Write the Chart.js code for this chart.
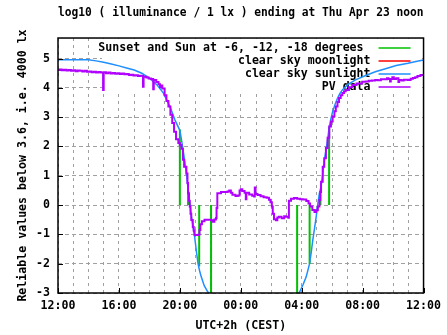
<!DOCTYPE html>
<html><head><meta charset="utf-8">
<script src="https://cdn.jsdelivr.net/npm/chart.js@4/dist/chart.umd.min.js"></script>
<style>html,body{margin:0;padding:0;background:#fff;overflow:hidden}</style>
</head><body>
<canvas id="c" width="447" height="335" style="width:447px;height:335px;display:block"></canvas>
<script>
const FONT = "'DejaVu Sans Mono', 'Liberation Mono', monospace";
const chartTitle = 'log10 ( illuminance / 1 lx ) ending at Thu Apr 23 noon';
const xAxisTitle = 'UTC+2h (CEST)';
const yAxisTitle = 'Reliable values below 3.6, i.e. 4000 lx';
// x is hours since Wed Apr 22 12:00 (UTC+2)
const xTickLabels = ['12:00', '16:00', '20:00', '00:00', '04:00', '08:00', '12:00'];

const legendLabels = ['Sunset and Sun at -6, -12, -18 degrees ', 'clear sky moonlight', 'clear sky sunlight', 'PV data'];
const legendColors = ['#00c000', '#ff0000', '#1e8fff', '#b000ff'];

// sunset, -6, -12, -18 (evening) and -18, -12, -6, sunrise (morning)
const twilightHours  = [8.0, 8.54, 9.27, 10.05, 15.7, 16.52, 17.23, 17.8];
const twilightValues = [2.58, 0.52, -2.1, -3.2, -3.2, -2.0, 0.45, 2.65];

const moonlightHours = [];
const moonlightValues = [];

const sunlightHours = [0, 1, 2, 2.5, 3, 3.5, 4, 4.5, 5, 5.5, 6, 6.5, 6.92, 7.35, 7.68, 8.0, 8.1, 8.2, 8.32, 8.43, 8.54, 8.65, 8.76, 8.87, 8.97, 9.08, 9.19, 9.3, 9.4, 9.6, 9.83, 10.05,
  12.85,
  15.65, 15.87, 16.1, 16.3, 16.52, 16.63, 16.73, 16.84, 16.95, 17.06, 17.16, 17.27, 17.38, 17.49, 17.6, 17.7, 17.8, 17.92, 18.03, 18.2, 18.35, 18.5, 18.67, 19.0, 19.53, 20.2, 20.83, 21.5, 22.2, 22.98, 23.5, 24];
const sunlightValues = [4.96, 4.96, 4.96, 4.92, 4.87, 4.81, 4.75, 4.68, 4.61, 4.50, 4.33, 4.10, 3.82, 3.36, 2.90, 2.55, 2.25, 1.92, 1.50, 1.08, 0.55, 0.06, -0.40, -0.75, -1.08, -1.55, -1.99, -2.25, -2.44, -2.75, -2.96, -3.1,
  null,
  -3.1, -2.96, -2.7, -2.44, -1.99, -1.6, -1.19, -0.8, -0.40, 0.05, 0.40, 0.63, 1.05, 1.54, 1.9, 2.22, 2.65, 2.95, 3.19, 3.45, 3.64, 3.8, 3.93, 4.1, 4.27, 4.42, 4.55, 4.65, 4.76, 4.84, 4.9, 4.95];

const pvHours = [0.00, 0.12, 0.25, 0.40, 0.55, 0.70, 0.85, 1.00, 1.15, 1.30, 1.45, 1.60, 1.75, 1.90, 2.05, 2.20, 2.35, 2.50, 2.65, 2.80, 2.96, 3.00,
  3.15, 3.30, 3.45, 3.60, 3.75, 3.90, 4.05, 4.20, 4.35, 4.50, 4.65, 4.80, 4.95, 5.10, 5.25, 5.40, 5.58, 5.62, 5.80, 5.95, 6.10, 6.25, 6.29,
  6.45, 6.60, 6.70, 6.78, 6.85, 7.00, 7.12, 7.25, 7.38, 7.50, 7.62, 7.75, 7.90, 8.00, 8.10, 8.20, 8.28, 8.43, 8.50, 8.54, 8.60, 8.65, 8.70,
  8.75, 8.85, 8.91, 8.97, 9.10, 9.23, 9.29, 9.35, 9.45, 9.62, 9.80, 10.05, 10.16, 10.27, 10.37, 10.41, 10.46, 10.70, 10.90, 11.13, 11.24,
  11.35, 11.45, 11.65, 11.80, 11.92, 12.00, 12.10, 12.25, 12.33, 12.37, 12.55, 12.75, 12.88, 12.92, 12.97, 13.10, 13.30, 13.50, 13.70,
  13.85, 13.95, 14.04, 14.10, 14.18, 14.31, 14.40, 14.50, 14.68, 14.85, 14.95, 15.12, 15.16, 15.30, 15.50, 15.70, 15.90, 16.10, 16.30,
  16.45, 16.55, 16.70, 16.84, 16.95, 17.06, 17.16, 17.22, 17.27, 17.38, 17.48, 17.59, 17.70, 17.81, 17.92, 18.03, 18.15, 18.24, 18.35,
  18.45, 18.56, 18.67, 18.78, 18.89, 19.10, 19.32, 19.60, 19.97, 20.20, 20.40, 20.62, 20.83, 21.00, 21.20, 21.47, 21.60, 21.70, 21.80,
  21.85, 21.95, 22.05, 22.20, 22.35, 22.40, 22.55, 22.70, 22.98, 23.15, 23.30, 23.45, 23.60, 23.80, 24.00];
const pvValues = [4.61, 4.63, 4.60, 4.62, 4.59, 4.61, 4.58, 4.60, 4.57, 4.59, 4.58, 4.56, 4.58, 4.55, 4.56, 4.53, 4.55, 4.52, 4.54, 4.52, 3.93, 4.53,
  4.50, 4.52, 4.49, 4.51, 4.48, 4.50, 4.47, 4.49, 4.46, 4.47, 4.44, 4.45, 4.42, 4.43, 4.40, 4.41, 4.04, 4.38, 4.35, 4.32, 4.30, 3.95, 4.27,
  4.20, 4.12, 4.02, 4.08, 3.98, 3.75, 3.55, 3.36, 3.08, 2.80, 2.50, 2.25, 2.12, 2.05, 1.92, 1.55, 1.31, 1.08, 0.75, 0.40, 0.15, -0.05, -0.30,
  -0.51, -0.75, -0.88, -1.02, -1.02, -1.00, -0.85, -0.65, -0.55, -0.50, -0.50, -0.52, -0.57, -0.49, -0.44, -0.10, 0.40, 0.45, 0.45, 0.46, 0.50,
  0.42, 0.35, 0.31, 0.33, 0.50, 0.54, 0.48, 0.42, 0.20, 0.42, 0.36, 0.32, 0.29, 0.60, 0.38, 0.34, 0.30, 0.27, 0.25,
  0.18, 0.10, -0.05, -0.30, -0.48, -0.52, -0.42, -0.40, -0.45, -0.38, -0.40, -0.43, 0.15, 0.22, 0.24, 0.22, 0.20, 0.19, 0.14,
  0.05, -0.05, -0.17, -0.24, -0.18, -0.05, 0.17, 0.45, 0.80, 1.31, 1.60, 1.95, 2.30, 2.68, 2.85, 3.02, 3.20, 3.36, 3.52,
  3.65, 3.75, 3.82, 3.88, 3.93, 4.02, 4.10, 4.15, 4.21, 4.22, 4.24, 4.25, 4.27, 4.26, 4.29, 4.29, 4.33, 4.30, 4.22,
  4.30, 4.36, 4.30, 4.33, 4.20, 4.27, 4.25, 4.28, 4.27, 4.31, 4.34, 4.36, 4.40, 4.44, 4.47];

const pairs = (xs, ys) => xs.map((x, i) => ({x: x, y: ys[i]}));
const twilightData = [];
twilightHours.forEach((t, i) => {
  twilightData.push({x: t, y: 0}, {x: t, y: twilightValues[i]}, {x: t, y: null});
});

const txtFont = {family: FONT, size: 11.6, weight: 'bold'};
const titleFont = {family: FONT, size: 12.1, weight: 'bold'};

const decor = {
  id: 'decor',
  beforeDatasetsDraw(chart) {
    const {ctx, chartArea: a} = chart;
    ctx.save();
    ctx.fillStyle = '#ffffff';
    ctx.fillRect(a.left + 44, a.top + 1, 320, 54);
    ctx.font = 'bold 11.6px ' + FONT;
    ctx.textAlign = 'right';
    ctx.textBaseline = 'middle';
    legendLabels.forEach((lab, i) => {
      const y = a.top + 10 + i * 13;
      ctx.fillStyle = '#000';
      ctx.fillText(lab, a.right - 53, y);
      ctx.strokeStyle = legendColors[i];
      ctx.lineWidth = 1.5;
      ctx.beginPath();
      ctx.moveTo(a.right - 45, y);
      ctx.lineTo(a.right - 13, y);
      ctx.stroke();
    });
    ctx.restore();
  },
  afterDraw(chart) {
    const {ctx, chartArea: a, scales} = chart;
    ctx.save();
    ctx.strokeStyle = '#000';
    ctx.lineWidth = 1.5;
    ctx.strokeRect(a.left, a.top, a.right - a.left, a.bottom - a.top);
    ctx.lineWidth = 1;
    ctx.beginPath();
    for (let h = 0; h <= 24; h += 4) {
      const x = Math.round(scales.x.getPixelForValue(h)) + 0.5;
      ctx.moveTo(x, a.bottom); ctx.lineTo(x, a.bottom - 5);
    }
    for (let v = -3; v <= 5; v++) {
      const y = Math.round(scales.y.getPixelForValue(v)) + 0.5;
      ctx.moveTo(a.left, y); ctx.lineTo(a.left + 5, y);
    }
    ctx.stroke();
    ctx.restore();
  }
};

new Chart(document.getElementById('c'), {
  type: 'line',
  data: {
    datasets: [
      {label: 'PV data', data: pairs(pvHours, pvValues), borderColor: legendColors[3], borderWidth: 2, stepped: true, order: 0},
      {label: 'clear sky sunlight', data: pairs(sunlightHours, sunlightValues), borderColor: legendColors[2], borderWidth: 1.5, order: 1},
      {label: 'clear sky moonlight', data: pairs(moonlightHours, moonlightValues), borderColor: legendColors[1], borderWidth: 1.5, order: 2},
      {label: 'Sunset and Sun at -6, -12, -18 degrees', data: twilightData, borderColor: legendColors[0], borderWidth: 2, order: 3}
    ]
  },
  options: {
    responsive: false,
    animation: false,
    devicePixelRatio: 1,
    spanGaps: false,
    layout: {padding: {left: 0, right: 18, top: 0, bottom: 0}},
    elements: {point: {radius: 0, hoverRadius: 0}, line: {tension: 0, fill: false}},
    plugins: {
      legend: {display: false},
      tooltip: {enabled: false},
      title: {display: true, text: chartTitle, fullSize: false, color: '#000', font: titleFont, padding: {top: 6, bottom: 17.5}}
    },
    scales: {
      x: {
        type: 'linear', min: 0, max: 24,
        afterFit(s) { s.height = 42; },
        ticks: {stepSize: 1, autoSkip: false, maxRotation: 0, minRotation: 0, padding: 6, color: '#000', font: txtFont,
          callback: (v) => (v % 4 === 0 ? xTickLabels[v / 4] : '')},
        grid: {color: '#a0a0a0', lineWidth: 1, drawTicks: false},
        border: {display: false, dash: [3, 4]},
        title: {display: true, text: xAxisTitle, color: '#000', font: txtFont, padding: {top: 0, bottom: 2}}
      },
      y: {
        min: -3, max: 5.7,
        afterFit(s) { s.width = 58; },
        ticks: {stepSize: 1, includeBounds: false, padding: 8, color: '#000', font: txtFont},
        grid: {color: '#a0a0a0', lineWidth: 1, drawTicks: false},
        border: {display: false, dash: [4, 3]},
        title: {display: true, text: yAxisTitle, color: '#000', font: txtFont, padding: {top: 16, bottom: 0}}
      }
    }
  },
  plugins: [decor]
});
</script>
</body></html>
